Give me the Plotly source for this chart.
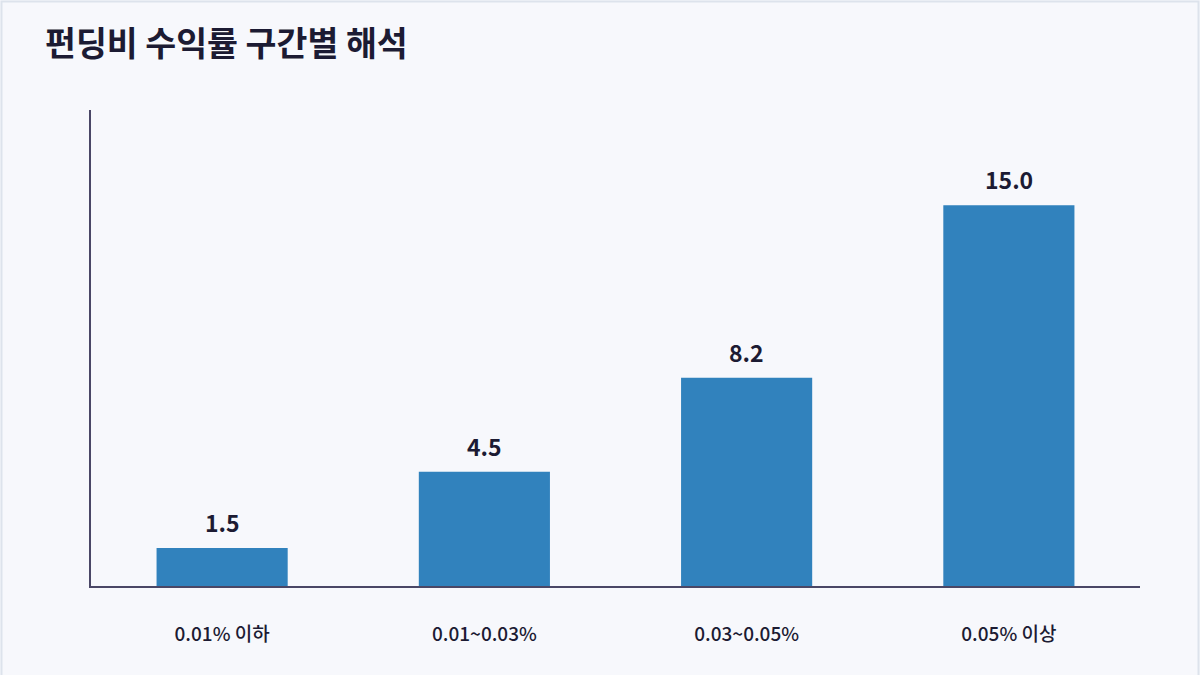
import plotly.graph_objects as go

categories = ["0.01% 이하", "0.01~0.03%", "0.03~0.05%", "0.05% 이상"]
values = [1.5, 4.5, 8.2, 15.0]

font = "Noto Sans CJK KR"
bg = "#f7f8fc"

fig = go.Figure(go.Bar(x=categories, y=values, marker_color="#3182bd",
                       marker_line_width=0, hoverinfo="skip"))

# value labels above each bar
for c, v in zip(categories, values):
    fig.add_annotation(x=c, y=v, text=f"<b>{v:.1f}</b>", showarrow=False,
                       yanchor="bottom", yshift=7,
                       font=dict(family=font, size=23, color="#1c1b33"))

W, H = 1200, 675
ml, mr, mt, mb = 91, 60, 110, 89
pw, ph = W - ml - mr, H - mt - mb

# light frame around the whole card
fig.add_shape(type="rect", xref="paper", yref="paper",
              x0=(1.5 - ml) / pw, x1=(W - 1.5 - ml) / pw,
              y0=(mb - H + 1.5) / ph, y1=(H - 1.5 - mb) / ph,
              line=dict(color="#dde3ec", width=2), fillcolor="rgba(0,0,0,0)", layer="below")

fig.update_layout(
    width=W, height=H,
    margin=dict(l=ml, r=mr, t=mt, b=mb),
    paper_bgcolor=bg, plot_bgcolor=bg,
    bargap=0.5,
    showlegend=False,
    title=dict(text="<b>펀딩비 수익률 구간별 해석</b>", x=45 / W, xanchor="left",
               y=1 - 44 / H, yanchor="middle",
               font=dict(family=font, size=33.6, color="#1c1b33")),
    font=dict(family=font, color="#1c1b33"),
    xaxis=dict(showline=True, linecolor="#4a4766", linewidth=2, showgrid=False,
               ticks="", ticklabelstandoff=30,
               tickfont=dict(size=19, color="#1c1b33", weight=500),
               fixedrange=True),
    yaxis=dict(range=[0, 18.75], showline=True, linecolor="#4a4766", linewidth=2,
               showgrid=False, zeroline=False, showticklabels=False, ticks="",
               fixedrange=True),
)

fig.write_html("out.html", config={"displayModeBar": False},
               post_script="document.body.style.margin='0';document.body.style.overflow='hidden';")
